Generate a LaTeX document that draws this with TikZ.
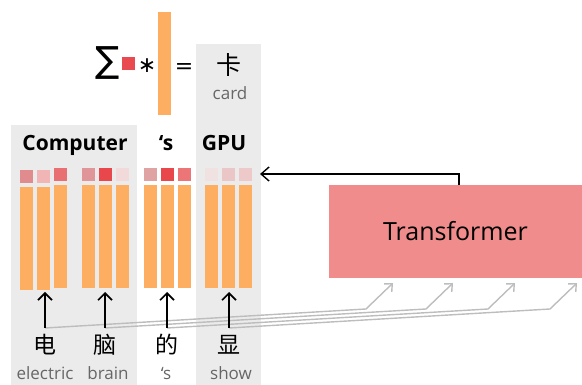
\documentclass[tikz,border=0pt]{standalone}
\usepackage{fontspec}
\setmainfont{Open Sans}
\newfontfamily\cjk{Noto Sans CJK SC}
\newfontfamily\symf{DejaVu Sans}
\usetikzlibrary{arrows.meta, math}
\definecolor{mygrey}{HTML}{EBEBEB}
\definecolor{myorange}{HTML}{FDAE61}
\definecolor{myred}{HTML}{E84A4F}
\definecolor{mypink}{HTML}{F08C8C}
\definecolor{myline}{HTML}{BDBDBD}
\definecolor{mytext}{HTML}{666666}
% attention weights, one per bar
\definecolor{wa1}{HTML}{E08C8E}
\definecolor{wa2}{HTML}{F2B5B5}
\definecolor{wa3}{HTML}{E86F72}
\definecolor{wb1}{HTML}{E09698}
\definecolor{wb2}{HTML}{E8474B}
\definecolor{wb3}{HTML}{F2D9DA}
\definecolor{wc1}{HTML}{DFA3A4}
\definecolor{wc2}{HTML}{E8484C}
\definecolor{wc3}{HTML}{EC7577}
\definecolor{wd1}{HTML}{F1E2E2}
\definecolor{wd2}{HTML}{EBC6C7}
\definecolor{wd3}{HTML}{EEC9CA}
\tikzset{
  word/.style={font=\fontsize{21}{21}\selectfont\bfseries, anchor=base},
  gloss/.style={font=\fontsize{17}{17}\selectfont, text=mytext, anchor=base},
  hanzi/.style={font=\cjk\fontsize{23}{23}\selectfont},
  op/.style={font=\symf\fontsize{22}{22}\selectfont, anchor=base},
  up/.style={-{Straight Barb[length=7pt,width=14pt]}, line width=1.6pt},
  back/.style={-{Straight Barb[length=8pt,width=14pt]}, line width=1.4pt},
  feed/.style={-{Straight Barb[length=6pt,width=11pt]}, line width=1.4pt, color=myline},
}

\begin{document}
\begin{tikzpicture}[x=1pt,y=-1pt]
\tikzmath{
\bw=13;
\gap=17;
\sy=168;
\by=185;
\bh=103;
\ga=20;
\gb=82;
\gc=144;
\gd=205;
}
\useasboundingbox (0,0) rectangle (582,385);

%the grey columns:
\fill[mygrey] (11,125) rectangle (137,385);
\fill[mygrey] (196,44) rectangle (261,385);

%the formula:
\node[font=\symf\fontsize{36}{36}\selectfont] (sum) at (108,63.5) {∑};
\fill[myred] (122,57) rectangle (135,70);
\node[op] (star) at (147,73) {∗};
\fill[myorange] (158,12) rectangle (171,115);
\node[op] (eq) at (184,74) {=};
\node[hanzi, font=\cjk\fontsize{25}{25}\selectfont] (ka) at (229,65) {卡};
\node[gloss] (card) at (230,100) {card};

%the words:
\node[word] (computer) at (75,151) {Computer};
\node[word] (poss) at (166,151) {‘s};
\node[word] (gpu) at (224,151) {GPU};

%weights and vectors:
\fill[wa1] (\ga,\sy+2) rectangle +(\bw,\bw);
\fill[wa2] (\ga+\gap,\sy+2) rectangle +(\bw,\bw);
\fill[wa3] (\ga+2*\gap,\sy) rectangle +(\bw,\bw);
\fill[myorange] (\ga,\by+2) rectangle +(\bw,\bh);
\fill[myorange] (\ga+\gap,\by+2) rectangle +(\bw,\bh);
\fill[myorange] (\ga+2*\gap,\by) rectangle +(\bw,\bh);

\fill[wb1] (\gb,\sy) rectangle +(\bw,\bw);
\fill[wb2] (\gb+\gap,\sy) rectangle +(\bw,\bw);
\fill[wb3] (\gb+2*\gap,\sy) rectangle +(\bw,\bw);
\fill[myorange] (\gb,\by) rectangle +(\bw,\bh);
\fill[myorange] (\gb+\gap,\by) rectangle +(\bw,\bh);
\fill[myorange] (\gb+2*\gap,\by) rectangle +(\bw,\bh);

\fill[wc1] (\gc,\sy) rectangle +(\bw,\bw);
\fill[wc2] (\gc+\gap,\sy) rectangle +(\bw,\bw);
\fill[wc3] (\gc+2*\gap,\sy) rectangle +(\bw,\bw);
\fill[myorange] (\gc,\by) rectangle +(\bw,\bh);
\fill[myorange] (\gc+\gap,\by) rectangle +(\bw,\bh);
\fill[myorange] (\gc+2*\gap,\by) rectangle +(\bw,\bh);

\fill[wd1] (\gd,\sy) rectangle +(\bw,\bw);
\fill[wd2] (\gd+\gap,\sy) rectangle +(\bw,\bw);
\fill[wd3] (\gd+2*\gap,\sy) rectangle +(\bw,\bw);
\fill[myorange] (\gd,\by) rectangle +(\bw,\bh);
\fill[myorange] (\gd+\gap,\by) rectangle +(\bw,\bh);
\fill[myorange] (\gd+2*\gap,\by) rectangle +(\bw,\bh);

%the characters:
\node[hanzi] (dian) at (45,345) {电};
\node[hanzi] (nao) at (105,345) {脑};
\node[hanzi] (de) at (167,345) {的};
\node[hanzi] (xian) at (229,345) {显};
\node[gloss] (electric) at (45,379) {electric};
\node[gloss] (brain) at (108,379) {brain};
\node[gloss] (poss2) at (166,379) {‘s};
\node[gloss] (show) at (231,379) {show};

\coordinate (in1) at (45,328);
\coordinate (in2) at (105,328);
\coordinate (in3) at (167,328);
\coordinate (in4) at (229,328);
\coordinate (b1) at (45,292);
\coordinate (b2) at (105,292);
\coordinate (b3) at (167,292);
\coordinate (b4) at (229,292);

%the transformer:
\node[fill=mypink, minimum width=253, minimum height=93, inner sep=0pt,
  font=\fontsize{25}{25}\selectfont] (tf) at (455.5,231.5) {Transformer};
\coordinate (k1) at (366,309);
\coordinate (k2) at (426,309);
\coordinate (k3) at (488,309);
\coordinate (k4) at (550,309);
\coordinate (t1) at (393,283);
\coordinate (t2) at (453,283);
\coordinate (t3) at (515,283);
\coordinate (t4) at (577,283);

\draw[feed] (in1) -- (k1) -- (t1);
\draw[feed] (in2) -- (k2) -- (t2);
\draw[feed] (in3) -- (k3) -- (t3);
\draw[feed] (in4) -- (k4) -- (t4);

\draw[up] (in1) -- (b1);
\draw[up] (in2) -- (b2);
\draw[up] (in3) -- (b3);
\draw[up] (in4) -- (b4);

\coordinate (gpuin) at (260,174);
\draw[back] ([xshift=3.5pt]tf.north) |- (gpuin);
\end{tikzpicture}
\end{document}
